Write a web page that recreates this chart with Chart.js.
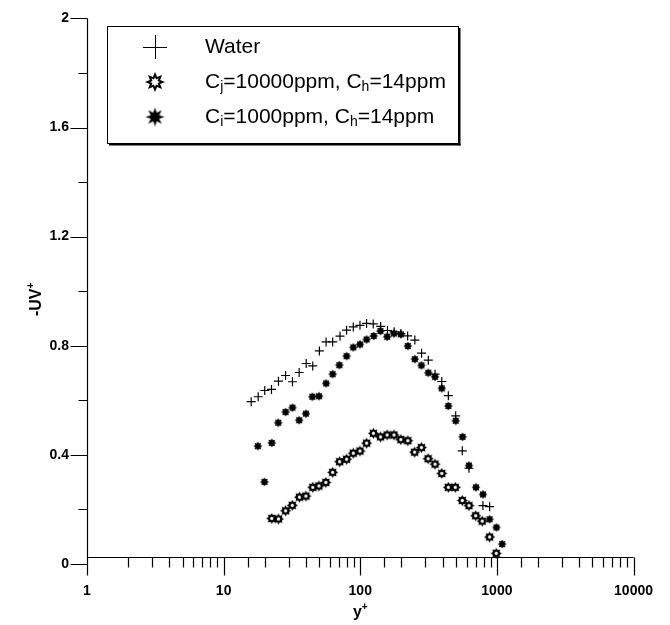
<!DOCTYPE html>
<html>
<head>
<meta charset="utf-8">
<title>-uv+ profiles</title>
<script src="https://cdn.jsdelivr.net/npm/chart.js@4/dist/chart.umd.min.js"></script>
<style>
  html, body { margin: 0; padding: 0; background: #fff; }
</style>
</head>
<body>
<canvas id="uv-chart" width="670" height="625"></canvas>
<script>
// y+ positions and -uv+ values for each run
var waterY = [15.9, 17.9, 20.0, 22.4, 25.2, 28.4, 31.9, 35.7, 40.2, 44.9, 50.2, 56.2, 62.8, 71.1, 79.4, 88.9, 99.5, 111.2, 124.4, 141.1, 158.2, 177.1, 198.2, 222.2, 250.8, 281.1, 314.7, 352.7, 394.8, 441.1, 499.4, 558.1, 624.6, 790.4, 884.5];
var waterUV = [0.595, 0.613, 0.636, 0.640, 0.670, 0.691, 0.668, 0.702, 0.735, 0.726, 0.781, 0.814, 0.814, 0.835, 0.857, 0.869, 0.875, 0.882, 0.880, 0.871, 0.856, 0.851, 0.845, 0.836, 0.821, 0.773, 0.747, 0.696, 0.669, 0.617, 0.543, 0.415, 0.351, 0.214, 0.210];

// Ci = 10000 ppm
var highY = [22.5, 25.2, 28.4, 31.8, 35.9, 40.0, 44.9, 49.8, 56.0, 62.8, 70.6, 79.4, 88.9, 99.5, 111.2, 124.8, 140.7, 157.4, 176.5, 198.2, 223.0, 249.9, 280.2, 313.6, 352.7, 394.8, 441.1, 496.1, 558.1, 624.6, 698.9, 781.2, 884.5, 988.3];
var highUV = [0.167, 0.165, 0.195, 0.215, 0.245, 0.249, 0.281, 0.286, 0.299, 0.336, 0.375, 0.384, 0.406, 0.414, 0.443, 0.479, 0.466, 0.473, 0.473, 0.456, 0.452, 0.410, 0.427, 0.386, 0.366, 0.332, 0.281, 0.281, 0.233, 0.214, 0.177, 0.157, 0.099, 0.039];

// Ci = 1000 ppm
var lowY = [17.8, 19.9, 22.5, 25.1, 28.4, 31.9, 35.7, 40.0, 44.6, 49.9, 56.2, 62.8, 70.3, 79.4, 88.9, 99.5, 111.2, 125.4, 140.4, 157.4, 176.5, 198.2, 223.0, 250.8, 280.2, 314.7, 352.7, 394.8, 441.1, 499.4, 560.1, 624.6, 702.6, 790.4, 884.5, 991.7, 1093];
var lowUV = [0.432, 0.301, 0.444, 0.518, 0.557, 0.573, 0.527, 0.551, 0.613, 0.615, 0.662, 0.696, 0.729, 0.762, 0.794, 0.805, 0.823, 0.836, 0.854, 0.833, 0.845, 0.842, 0.799, 0.751, 0.728, 0.701, 0.686, 0.644, 0.579, 0.525, 0.466, 0.361, 0.281, 0.255, 0.164, 0.134, 0.073];

var xMin = 1, xMax = 10000;
var yMin = 0, yMax = 2;
var yLabelStep = 0.4;
var xAxisAt = 0.024;   // the y+ axis line sits just above zero

// legend rows: [main, subscript, main, subscript, main]
var legendRows = [
    ['Water'],
    ['C', 'j', '=10000ppm, C', 'h', '=14ppm'],
    ['C', 'i', '=1000ppm, C', 'h', '=14ppm']
];

var FONT = "'Liberation Sans', Arial, Helvetica, sans-serif";

function toPoints(xs, ys) {
    return xs.map(function(x, i) { return {x: x, y: ys[i]}; });
}

// 8-point star marker, optionally with a white core
function starImage(rOut, rIn, hollow, core) {
    var size = Math.ceil(rOut * 2) + 2;
    var c = document.createElement('canvas');
    c.width = size; c.height = size;
    var g = c.getContext('2d');
    var cx = size / 2;
    function star(ro, ri) {
        g.beginPath();
        for (var i = 0; i < 16; i++) {
            var r = i % 2 === 0 ? ro : ri;
            var a = i * Math.PI / 8 - Math.PI / 2;
            g.lineTo(cx + r * Math.cos(a), cx + r * Math.sin(a));
        }
        g.closePath();
    }
    star(rOut, rIn);
    g.fillStyle = '#000';
    g.fill();
    if (hollow) {
        star(rOut * core, rIn * core);
        g.fillStyle = '#fff';
        g.fill();
    }
    return c;
}

var openStar = starImage(5.5, 3.6, true, 0.36);
var filledStar = starImage(4.6, 2.9, false);
var openStarBig = starImage(10, 5.5, true, 0.5);
var filledStarBig = starImage(9.5, 4.5, false);

function isDecade(v) {
    var l = Math.log10(v);
    return Math.abs(l - Math.round(l)) < 1e-9;
}

function isYLabel(v) {
    var k = v / yLabelStep;
    return Math.abs(k - Math.round(k)) < 1e-6;
}

// axis lines and tick marks (majors long, minors short)
var axisPlugin = {
    id: 'axisPlugin',
    afterDraw: function(chart) {
        var ctx = chart.ctx;
        var xs = chart.scales.x, ys = chart.scales.y;
        var x0 = Math.round(xs.getPixelForValue(xMin)) + 0.5;
        var x1 = xs.getPixelForValue(xMax);
        var yLine = Math.round(ys.getPixelForValue(xAxisAt)) + 0.5;
        ctx.save();
        ctx.strokeStyle = '#000';
        ctx.lineWidth = 1.2;
        ctx.beginPath();
        ctx.moveTo(x0, ys.getPixelForValue(yMax));
        ctx.lineTo(x0, yLine);
        ys.ticks.forEach(function(t) {
            var py = Math.round(ys.getPixelForValue(t.value)) + 0.5;
            var len = isYLabel(t.value) ? 17 : 9;
            ctx.moveTo(x0, py);
            ctx.lineTo(x0 - len, py);
        });
        ctx.moveTo(x0, yLine);
        ctx.lineTo(x1, yLine);
        xs.ticks.forEach(function(t) {
            var px = Math.round(xs.getPixelForValue(t.value)) + 0.5;
            var len = isDecade(t.value) ? 18 : 10;
            ctx.moveTo(px, yLine);
            ctx.lineTo(px, yLine + len);
        });
        ctx.stroke();

        // axis titles with superscript plus
        ctx.fillStyle = '#000';
        ctx.textBaseline = 'alphabetic';
        ctx.font = 'bold 16px ' + FONT;
        var w1 = ctx.measureText('y').width;
        ctx.font = 'bold 10px ' + FONT;
        var w2 = ctx.measureText('+').width;
        var cx = xs.getPixelForValue(100) - (w1 + w2) / 2;
        ctx.font = 'bold 16px ' + FONT;
        ctx.fillText('y', cx, 617);
        ctx.font = 'bold 10px ' + FONT;
        ctx.fillText('+', cx + w1, 610);

        ctx.save();
        ctx.translate(41, ys.getPixelForValue(0.97));
        ctx.rotate(-Math.PI / 2);
        ctx.font = 'bold 16px ' + FONT;
        var w3 = ctx.measureText('-UV').width;
        ctx.font = 'bold 10px ' + FONT;
        var w4 = ctx.measureText('+').width;
        var sx = -(w3 + w4) / 2;
        ctx.font = 'bold 16px ' + FONT;
        ctx.fillText('-UV', sx, 0);
        ctx.font = 'bold 10px ' + FONT;
        ctx.fillText('+', sx + w3, -7);
        ctx.restore();
        ctx.restore();
    }
};

// boxed legend with subscripted labels
var legendPlugin = {
    id: 'boxLegend',
    afterDraw: function(chart) {
        var ctx = chart.ctx;
        var left = 107, top = 26, textX = 205, symX = 155;
        var rowY = [47, 82, 117];
        var mainFont = '21px ' + FONT, subFont = '14px ' + FONT;
        ctx.save();
        ctx.fillStyle = '#000';
        ctx.textBaseline = 'middle';
        var right = 0;
        legendRows.forEach(function(parts, r) {
            var x = textX;
            parts.forEach(function(p, k) {
                var sub = k % 2 === 1;
                ctx.font = sub ? subFont : mainFont;
                ctx.fillText(p, x, rowY[r] + (sub ? 5 : 0));
                x += ctx.measureText(p).width;
            });
            right = Math.max(right, x);
        });
        right = Math.round(right + 12) + 0.5;
        var bottom = 143.5;
        // drop shadow then frame
        ctx.fillStyle = '#000';
        ctx.fillRect(left + 2, bottom, right - left, 2);
        ctx.fillRect(right, top + 2, 2, bottom - top);
        ctx.strokeStyle = '#000';
        ctx.lineWidth = 1;
        ctx.strokeRect(left + 0.5, top + 0.5, right - left - 0.5, bottom - top - 0.5);

        // symbols
        ctx.beginPath();
        ctx.lineWidth = 1;
        ctx.moveTo(symX - 12, rowY[0] + 0.5);
        ctx.lineTo(symX + 12, rowY[0] + 0.5);
        ctx.moveTo(symX + 0.5, rowY[0] - 12);
        ctx.lineTo(symX + 0.5, rowY[0] + 12);
        ctx.stroke();
        ctx.drawImage(openStarBig, symX - openStarBig.width / 2, rowY[1] - openStarBig.height / 2);
        ctx.drawImage(filledStarBig, symX - filledStarBig.width / 2, rowY[2] - filledStarBig.height / 2);
        ctx.restore();
    }
};

var ctx = document.getElementById('uv-chart').getContext('2d');
var uvChart = new Chart(ctx, {
    type: 'scatter',
    data: {
        datasets: [{
            label: 'Water',
            data: toPoints(waterY, waterUV),
            pointStyle: 'cross',
            radius: 4.5,
            borderColor: '#000',
            borderWidth: 1.2
        }, {
            label: 'Ci=10000ppm, Ch=14ppm',
            data: toPoints(highY, highUV),
            pointStyle: openStar,
            borderColor: '#000',
            backgroundColor: '#000'
        }, {
            label: 'Ci=1000ppm, Ch=14ppm',
            data: toPoints(lowY, lowUV),
            pointStyle: filledStar,
            borderColor: '#000',
            backgroundColor: '#000'
        }]
    },
    options: {
        responsive: false,
        animation: false,
        devicePixelRatio: 1,
        layout: {
            padding: {left: 0, top: 8, right: 14, bottom: 61}
        },
        scales: {
            x: {
                type: 'logarithmic',
                position: {y: xAxisAt},
                min: xMin,
                max: xMax,
                grid: {display: false},
                border: {display: false},
                ticks: {
                    autoSkip: false,
                    maxRotation: 0,
                    padding: 17,
                    color: '#000',
                    font: {family: FONT, size: 14, weight: 'bold'},
                    callback: function(v) { return isDecade(v) ? String(Math.round(v)) : ''; }
                }
            },
            y: {
                position: 'left',
                min: yMin,
                max: yMax,
                grid: {display: false},
                border: {display: false},
                afterFit: function(scale) { scale.width = 87; },
                ticks: {
                    stepSize: 0.2,
                    autoSkip: false,
                    padding: 10,
                    color: '#000',
                    font: {family: FONT, size: 14, weight: 'bold'},
                    callback: function(v) {
                        return isYLabel(v) ? String(Math.round(v * 10) / 10) : '';
                    }
                }
            }
        },
        plugins: {
            legend: {display: false},
            tooltip: {enabled: false}
        }
    },
    plugins: [axisPlugin, legendPlugin]
});
</script>
</body>
</html>
